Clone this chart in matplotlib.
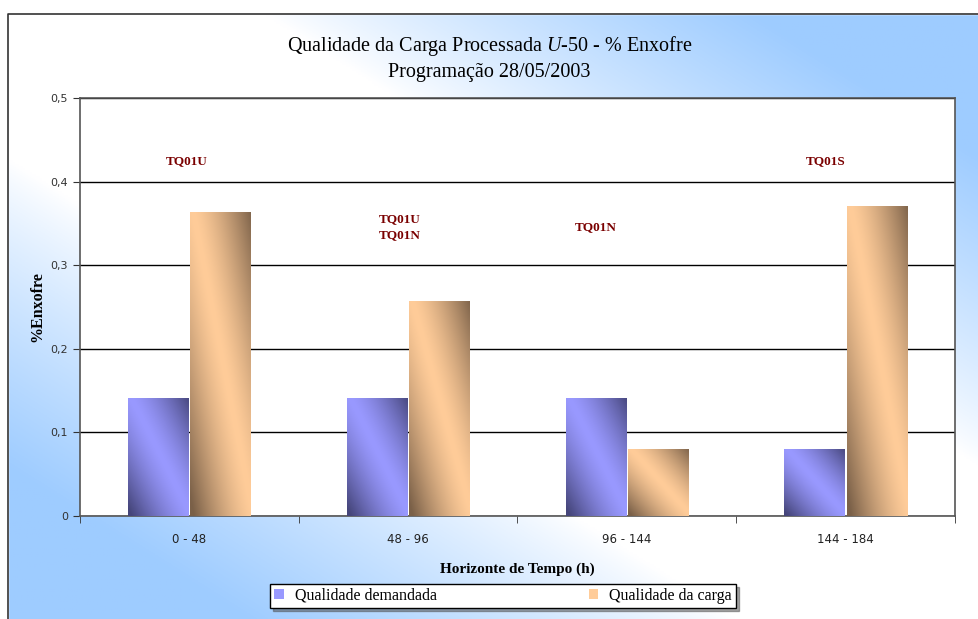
import matplotlib.pyplot as plt
import numpy as np
from matplotlib.colors import LinearSegmentedColormap
from matplotlib.patches import Rectangle

plt.rcParams['mathtext.fontset'] = 'custom'
plt.rcParams['mathtext.rm'] = 'Liberation Serif'
plt.rcParams['mathtext.it'] = 'Liberation Serif:italic'

# Teor de enxofre por horizonte de tempo
horizontes = ['0 - 48', '48 - 96', '96 - 144', '144 - 184']
demandada = [0.14, 0.14, 0.14, 0.08]
carga = [0.363, 0.257, 0.08, 0.37]

# Tanques indicados em cada horizonte (texto, posicao x, posicao y)
tanques = ['TQ01U', 'TQ01U\nTQ01N', 'TQ01N', 'TQ01S']
tanques_x = [-0.01, 0.96, 1.86, 2.91]
tanques_y = [0.425, 0.346, 0.345, 0.425]

W, H = 979, 619
fig = plt.figure(figsize=(W / 100, H / 100), dpi=100)

# fundo com degrade diagonal branco/azul
bg = fig.add_axes([0, 0, 1, 1], zorder=-10)
yy, xx = np.mgrid[0:1:300j, 0:1:480j]
g = np.abs(xx - yy)
frac = np.clip((g - 0.25) / 0.5, 0, 1) ** 0.85
azul = np.array([0.62, 0.80, 1.0])
img = np.ones((300, 480, 3)) * (1 - frac[..., None]) + azul * frac[..., None]
bg.imshow(img, extent=[0, 1, 1, 0], aspect='auto')
bg.set_xlim(0, 1)
bg.set_ylim(1, 0)
bg.axis('off')
# area fora da moldura em branco
bg.add_patch(Rectangle((0, 0), 8 / W, 1, color='white', zorder=2))
bg.add_patch(Rectangle((0, 0), 1, 14 / H, color='white', zorder=2))
bg.plot([8 / W, 8 / W, 1], [1, 14 / H, 14 / H], color='#333333', lw=1.2, zorder=3)

ax = fig.add_axes([80 / W, 1 - 516 / H, 875 / W, 418 / H])
ax.set_facecolor('white')

x = np.arange(len(horizontes))
w = 0.275
b1 = ax.bar(x - w / 2 - 0.005, demandada, w, color='#9999ff', zorder=3,
            label='Qualidade demandada')
b2 = ax.bar(x + w / 2 + 0.005, carga, w, color='#ffcc99', zorder=3,
            label='Qualidade da carga')

cmap_azul = LinearSegmentedColormap.from_list('az', ['#9999ff', '#45457a'])
cmap_lar = LinearSegmentedColormap.from_list('la', ['#ffcc99', '#7a6048'])


def sombrear(rects, cmap):
    for r in rects:
        x0, y0 = r.get_x(), r.get_y()
        x1, y1 = x0 + r.get_width(), y0 + r.get_height()
        v, u = np.mgrid[1:0:80j, 0:1:40j]
        t = np.abs(u + v - 1.05) ** 1.4
        ax.imshow(t, extent=[x0, x1, y0, y1], cmap=cmap, vmin=0, vmax=1,
                  aspect='auto', zorder=4, interpolation='bilinear')


sombrear(b1, cmap_azul)
sombrear(b2, cmap_lar)

for tx, txt, ty in zip(tanques_x, tanques, tanques_y):
    ax.text(tx, ty, txt, color='#7a0000', fontsize=9.5, fontweight='bold',
            family='Liberation Serif', ha='center', va='center',
            linespacing=1.45, zorder=5)

ax.set_xlim(-0.5, len(horizontes) - 0.5)
ax.set_ylim(0, 0.5)
ax.set_yticks([0, 0.1, 0.2, 0.3, 0.4, 0.5])
ax.set_yticklabels(['0', '0,1', '0,2', '0,3', '0,4', '0,5'])
ax.set_xticks(x)
ax.set_xticklabels(horizontes)
ax.set_xticks(np.arange(-0.5, len(horizontes)), minor=True)
ax.tick_params(axis='x', which='major', length=0, pad=12, labelsize=8.5, labelcolor='#222222')
ax.tick_params(axis='x', which='minor', length=5, direction='out', color='#333333')
ax.tick_params(axis='y', length=5, direction='out', color='#333333', labelsize=8,
               labelcolor='#333333')
ax.grid(axis='y', color='black', lw=1, zorder=1)
ax.set_axisbelow(True)
for s in ax.spines.values():
    s.set_color('#555555')
    s.set_linewidth(1.2)

ax.set_xlabel('Horizonte de Tempo (h)', family='Liberation Serif', fontweight='bold',
              fontsize=11, labelpad=12)
ax.set_ylabel('%Enxofre', family='Liberation Serif', fontweight='bold', fontsize=11.5,
              labelpad=4)

fig.text(0.5, 1 - 46 / H, 'Qualidade da Carga Processada $\\mathit{U}$-$\\mathit{50}$ - % Enxofre',
         ha='center', va='center', fontsize=14.5, family='Liberation Serif')
fig.text(0.5, 1 - 72 / H, 'Programação 28/05/2003', ha='center', va='center',
         fontsize=14.5, family='Liberation Serif')

leg = fig.legend(handles=[b1, b2], loc='center', bbox_to_anchor=(503 / W, 1 - 596 / H),
                 ncol=2, frameon=True, fancybox=False, shadow=True, handlelength=0.6,
                 handleheight=0.6, handletextpad=0.7, columnspacing=9.5, borderpad=0.25,
                 borderaxespad=0, prop={'family': 'Liberation Serif', 'size': 11.5})
leg.get_frame().set_edgecolor('black')
leg.get_frame().set_linewidth(1)

fig.savefig('out.png', dpi=100)
